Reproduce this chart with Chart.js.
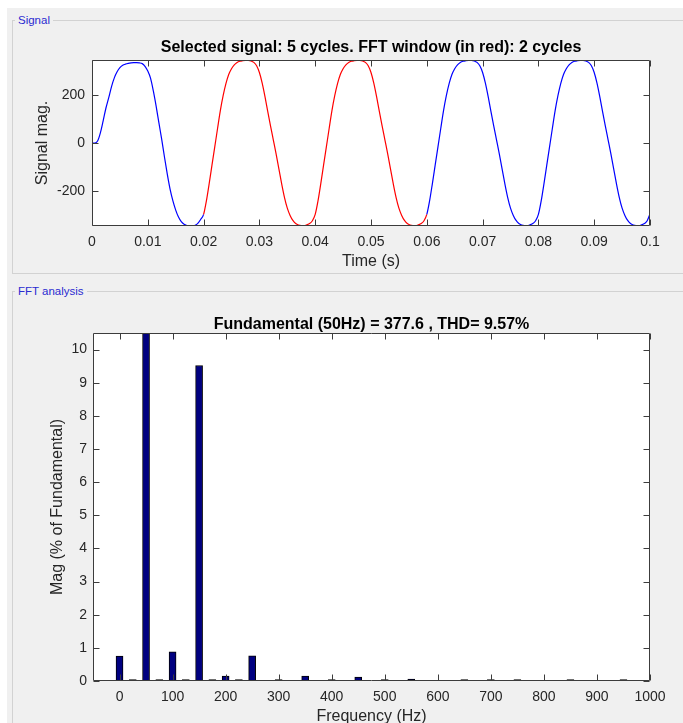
<!DOCTYPE html>
<html>
<head>
<meta charset="utf-8">
<title>Signal and FFT analysis</title>
<script src="https://cdn.jsdelivr.net/npm/chart.js@4.4.1/dist/chart.umd.min.js"></script>
<style>
  html, body { margin: 0; padding: 0; background: #ffffff; }
  body { width: 683px; height: 723px; position: relative; overflow: hidden; font-family: "Liberation Sans", Arial, sans-serif; }
  #bg { position: absolute; left: 7px; top: 8px; right: 0; bottom: 0; background: #f0f0f0; }
  .frame { position: absolute; border: 1px solid #d2d2d2; }
  #signalFrame { left: 12px; top: 20px; width: 700px; height: 252px; }
  #fftFrame { left: 12px; top: 291px; width: 700px; height: 500px; }
  .frameLabel { position: absolute; font-size: 11.5px; line-height: 14px; color: #2b2bd0; background: #f0f0f0; padding: 0 3px; }
  canvas { position: absolute; left: 0; }
</style>
</head>
<body>
<div id="bg"></div>
<div class="frame" id="signalFrame"></div>
<div class="frameLabel" style="left:15px; top:13px;">Signal</div>
<div class="frame" id="fftFrame"></div>
<div class="frameLabel" style="left:15px; top:284px;">FFT analysis</div>

<canvas id="signalChart" width="683" height="250" style="top:30px;"></canvas>
<canvas id="fftChart" width="683" height="428" style="top:295px;"></canvas>

<script>
const BLUE = "#0000ff";
const RED = "#ff0000";
const NAVY = "#000080";
const AXIS = "#262626";
const FONT = "'Liberation Sans', Arial, Helvetica, sans-serif";

// signal samples, one every 0.5 ms (one array per cycle)
const sampleStep = 0.0005;
const cycle1 = [0, 0, 8, 42, 92, 145, 188, 234, 270, 295,
  312, 322, 327, 330, 332, 333, 333, 332, 329, 318,
  298, 268, 215, 152, 82, 14, -60, -130, -192, -240,
  -278, -307, -326, -337, -342, -344, -344, -341, -332, -316];
const cycle2 = [-296, -240, -168, -92, -16, 60, 134, 196, 246, 284,
  308, 324, 334, 339, 341, 342, 342, 340, 334, 320,
  292, 248, 192, 130, 70, 12, -46, -108, -170, -226,
  -270, -300, -321, -334, -340, -342, -342, -339, -334, -322];
const cycle3 = [-296, -240, -168, -92, -16, 60, 134, 196, 246, 284,
  308, 324, 334, 339, 341, 342, 342, 340, 334, 320,
  292, 248, 192, 130, 70, 12, -46, -108, -170, -226,
  -270, -300, -321, -334, -340, -342, -342, -339, -334, -322];
const cycle4 = [-296, -240, -168, -92, -16, 60, 134, 196, 246, 284,
  308, 324, 334, 339, 341, 342, 342, 340, 334, 320,
  292, 248, 192, 130, 70, 12, -46, -108, -170, -226,
  -270, -300, -321, -334, -340, -342, -342, -339, -334, -322];
const cycle5 = [-296, -240, -168, -92, -16, 60, 134, 196, 246, 284,
  308, 324, 334, 339, 341, 342, 342, 340, 334, 320,
  292, 248, 192, 130, 70, 12, -46, -108, -170, -226,
  -270, -300, -321, -334, -340, -342, -342, -339, -334, -322];
const lastSample = [-294];

const fftWindowStart = 0.02;
const fftWindowEnd = 0.06;

const timeTicks = [0, 0.01, 0.02, 0.03, 0.04, 0.05, 0.06, 0.07, 0.08, 0.09, 0.1];
const timeTickLabels = ["0", "0.01", "0.02", "0.03", "0.04", "0.05", "0.06", "0.07", "0.08", "0.09", "0.1"];
const signalTicks = [-200, 0, 200];

// FFT bars (% of fundamental)
const fftFreqs = [0, 25, 50, 75, 100, 125, 150, 175, 200, 225,
  250, 275, 300, 325, 350, 375, 400, 425, 450, 475,
  500, 525, 550, 575, 600, 625, 650, 675, 700, 725,
  750, 775, 800, 825, 850, 875, 900, 925, 950, 975, 1000];
const fftMags = [0.75, 0.04, 100, 0.04, 0.88, 0.04, 9.52, 0.04, 0.15, 0.04,
  0.76, 0, 0.04, 0, 0.15, 0, 0.04, 0, 0.12, 0,
  0.04, 0, 0.06, 0, 0, 0, 0.04, 0, 0.04, 0,
  0.04, 0, 0, 0, 0.04, 0, 0, 0, 0.04, 0, 0];
const freqTicks = [0, 100, 200, 300, 400, 500, 600, 700, 800, 900, 1000];
const magTicks = [0, 1, 2, 3, 4, 5, 6, 7, 8, 9, 10];

const signalValues = cycle1.concat(cycle2, cycle3, cycle4, cycle5, lastSample);
const signalPoints = signalValues.map((v, i) => ({ x: i * sampleStep, y: v }));
const fftPoints = fftFreqs.map((f, i) => ({ x: f, y: fftMags[i] }));

// white plot background, box and inward ticks like the MATLAB axes
const plotFrame = {
  id: "plotFrame",
  beforeDraw(chart) {
    const a = chart.chartArea;
    const ctx = chart.ctx;
    ctx.save();
    ctx.fillStyle = "#ffffff";
    ctx.fillRect(a.left, a.top, a.right - a.left, a.bottom - a.top);
    ctx.restore();
  },
  afterDatasetsDraw(chart) {
    const a = chart.chartArea;
    const ctx = chart.ctx;
    const len = 6;
    const l = Math.round(a.left) + 0.5, r = Math.round(a.right) - 0.5;
    const t = Math.round(a.top) + 0.5, b = Math.round(a.bottom) - 0.5;
    ctx.save();
    ctx.strokeStyle = "#3c3c3c";
    ctx.lineWidth = 1;
    ctx.beginPath();
    chart.scales.x.ticks.forEach(tk => {
      const px = Math.round(chart.scales.x.getPixelForValue(tk.value)) + 0.5;
      ctx.moveTo(px, b); ctx.lineTo(px, b - len);
      ctx.moveTo(px, t); ctx.lineTo(px, t + len);
    });
    chart.scales.y.ticks.forEach(tk => {
      const py = Math.round(chart.scales.y.getPixelForValue(tk.value)) + 0.5;
      ctx.moveTo(l, py); ctx.lineTo(l + len, py);
      ctx.moveTo(r, py); ctx.lineTo(r - len, py);
    });
    ctx.rect(l, t, r - l, b - t);
    ctx.stroke();
    ctx.restore();
  }
};

function inWindow(ctx) {
  return ctx.p0.parsed.x >= fftWindowStart - 1e-9 && ctx.p1.parsed.x <= fftWindowEnd + 1e-9;
}

new Chart(document.getElementById("signalChart"), {
  type: "line",
  data: {
    datasets: [{
      data: signalPoints,
      borderColor: BLUE,
      borderWidth: 1.2,
      pointRadius: 0,
      cubicInterpolationMode: "monotone",
      segment: {
        borderColor: ctx => inWindow(ctx) ? RED : BLUE
      }
    }]
  },
  options: {
    responsive: false,
    animation: false,
    layout: { padding: { left: 0, right: 33, top: 10, bottom: 10 } },
    plugins: {
      legend: { display: false },
      tooltip: { enabled: false },
      title: {
        display: true,
        fullSize: false,
        text: "Selected signal: 5 cycles. FFT window (in red): 2 cycles",
        color: "#000000",
        font: { family: FONT, size: 16, weight: "bold", lineHeight: 1 },
        padding: { top: 0, bottom: 4 }
      }
    },
    scales: {
      x: {
        type: "linear",
        min: 0,
        max: 0.1,
        afterBuildTicks: s => { s.ticks = timeTicks.map(v => ({ value: v })); },
        afterFit: s => { s.height = 44; },
        grid: { display: false, drawTicks: false },
        border: { display: false },
        ticks: {
          autoSkip: false, maxRotation: 0, padding: 8, color: AXIS,
          font: { family: FONT, size: 14 },
          callback: (v, i) => timeTickLabels[i]
        },
        title: {
          display: true, text: "Time (s)", color: AXIS,
          font: { family: FONT, size: 16 },
          padding: { top: 0, bottom: -1 }
        }
      },
      y: {
        min: -344,
        max: 344,
        afterBuildTicks: s => { s.ticks = signalTicks.map(v => ({ value: v })); },
        afterFit: s => { s.width = 92; },
        grid: { display: false, drawTicks: false },
        border: { display: false },
        ticks: {
          autoSkip: false, padding: 7, color: AXIS,
          font: { family: FONT, size: 14 },
          callback: v => String(v)
        },
        title: {
          display: true, text: "Signal mag.", color: AXIS,
          font: { family: FONT, size: 16 },
          padding: { top: 33, bottom: 0 }
        }
      }
    }
  },
  plugins: [plotFrame]
});

new Chart(document.getElementById("fftChart"), {
  type: "bar",
  data: {
    datasets: [{
      data: fftPoints,
      backgroundColor: NAVY,
      borderColor: "#000000",
      borderWidth: 1,
      barThickness: 7
    }]
  },
  options: {
    responsive: false,
    animation: false,
    layout: { padding: { left: 0, right: 33, top: 22, bottom: 0 } },
    plugins: {
      legend: { display: false },
      tooltip: { enabled: false },
      title: {
        display: true,
        fullSize: false,
        text: "Fundamental (50Hz) = 377.6 , THD= 9.57%",
        color: "#000000",
        font: { family: FONT, size: 16, weight: "bold", lineHeight: 1 },
        padding: { top: 0, bottom: 0 }
      }
    },
    scales: {
      x: {
        type: "linear",
        min: -50,
        max: 1000,
        offset: false,
        afterBuildTicks: s => { s.ticks = freqTicks.map(v => ({ value: v })); },
        afterFit: s => { s.height = 42; },
        grid: { display: false, drawTicks: false },
        border: { display: false },
        ticks: {
          autoSkip: false, maxRotation: 0, padding: 8, color: AXIS,
          font: { family: FONT, size: 14 },
          callback: v => String(v)
        },
        title: {
          display: true, text: "Frequency (Hz)", color: AXIS,
          font: { family: FONT, size: 16 },
          padding: { top: 0, bottom: -3 }
        }
      },
      y: {
        min: 0,
        max: 10.5,
        afterBuildTicks: s => { s.ticks = magTicks.map(v => ({ value: v })); },
        afterFit: s => { s.width = 93; },
        grid: { display: false, drawTicks: false },
        border: { display: false },
        ticks: {
          autoSkip: false, padding: 6, color: AXIS,
          font: { family: FONT, size: 14 },
          callback: v => String(v)
        },
        title: {
          display: true, text: "Mag (% of Fundamental)", color: AXIS,
          font: { family: FONT, size: 16 },
          padding: { top: 48, bottom: 0 }
        }
      }
    }
  },
  plugins: [plotFrame]
});
</script>
</body>
</html>
